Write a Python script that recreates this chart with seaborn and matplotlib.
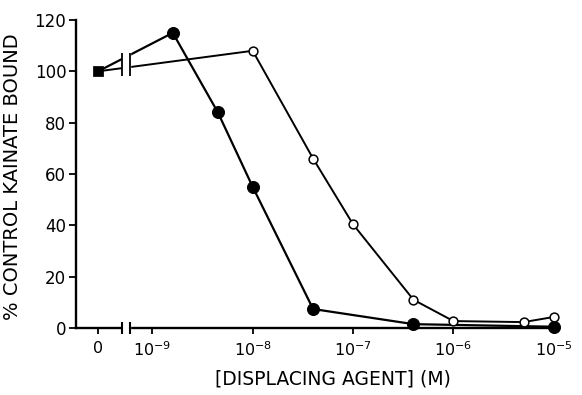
import numpy as np
import pandas as pd
import matplotlib
matplotlib.use("Agg")
import matplotlib.pyplot as plt
import seaborn as sns

# concentration of displacing agent (M); 0 = control
filled_conc = [0, 1.6e-9, 4.5e-9, 1e-8, 4e-8, 4e-7, 1e-5]
filled_bound = [100, 115, 84, 55, 7.4, 1.5, 0.5]
open_conc = [0, 1e-8, 4e-8, 1e-7, 4e-7, 1e-6, 5e-6, 1e-5]
open_bound = [100, 108, 66, 40.4, 11, 2.7, 2.3, 4.3]

x_ticks = [0, 1e-9, 1e-8, 1e-7, 1e-6, 1e-5]
x_ticklabels = ["0", r"$\mathregular{10^{-9}}$", r"$\mathregular{10^{-8}}$",
                r"$\mathregular{10^{-7}}$", r"$\mathregular{10^{-6}}$",
                r"$\mathregular{10^{-5}}$"]
y_ticks = [0, 20, 40, 60, 80, 100, 120]

ZERO_POS = -9.54          # where the "0" (control) sits on the log axis
BREAK = (-9.30, -9.22)    # axis break between control and 10^-9


def to_pos(conc):
    conc = np.asarray(conc, dtype=float)
    return np.where(conc > 0, np.log10(np.where(conc > 0, conc, 1.0)), ZERO_POS)


filled = pd.DataFrame({"pos": to_pos(filled_conc), "bound": filled_bound})
opened = pd.DataFrame({"pos": to_pos(open_conc), "bound": open_bound})

sns.set_style("ticks")
plt.rcParams["font.family"] = ["DejaVu Sans"]
for key in ("text.color", "axes.labelcolor", "xtick.color", "ytick.color",
            "axes.edgecolor"):
    plt.rcParams[key] = "black"

fig = plt.figure(figsize=(5.82, 3.95), dpi=100)
ax = fig.add_axes([0.1306, 0.1696, 0.8244, 0.7798])

sns.lineplot(data=filled, x="pos", y="bound", color="black", lw=1.6,
             sort=True, estimator=None, ax=ax, zorder=2)
sns.lineplot(data=opened, x="pos", y="bound", color="black", lw=1.4,
             sort=True, estimator=None, ax=ax, zorder=2)

# control point (shared)
sns.scatterplot(data=filled.iloc[:1], x="pos", y="bound", marker="s", s=45,
                color="black", edgecolor="black", ax=ax, zorder=5, clip_on=False)
sns.scatterplot(data=filled.iloc[1:], x="pos", y="bound", marker="o", s=75,
                color="black", edgecolor="black", ax=ax, zorder=5, clip_on=False)
sns.scatterplot(data=opened.iloc[1:], x="pos", y="bound", marker="o", s=40,
                color="white", edgecolor="black", linewidth=1.1, ax=ax,
                zorder=6, clip_on=False)

# axis break
ax.axvspan(BREAK[0], BREAK[1], ymin=-0.03, ymax=1, color="white", zorder=3,
           clip_on=False)
ax.vlines(BREAK, -2.5, 2.5, color="black", lw=1.5, zorder=4, clip_on=False)
ax.vlines(BREAK, 98, 107, color="black", lw=1.3, zorder=4, clip_on=False)

ax.set_xlim(-9.76, -4.98)
ax.set_ylim(0, 120)
ax.set_xticks(to_pos(x_ticks))
ax.set_xticklabels(x_ticklabels)
ax.set_yticks(y_ticks)

sns.despine(ax=ax)
for side in ("left", "bottom"):
    ax.spines[side].set_linewidth(1.7)
ax.tick_params(axis="x", direction="out", length=4, width=1.3, pad=5,
               labelsize=11.5)
ax.tick_params(axis="y", direction="out", length=5, width=1.3, pad=2,
               labelsize=12)

ax.set_ylabel("% CONTROL KAINATE BOUND", fontsize=14)
ax.yaxis.set_label_coords(-0.112, 0.49)
ax.set_xlabel("[DISPLACING AGENT] (M)", fontsize=13.5)
ax.xaxis.set_label_coords(0.535, -0.135)

fig.savefig("out.png", dpi=100)
